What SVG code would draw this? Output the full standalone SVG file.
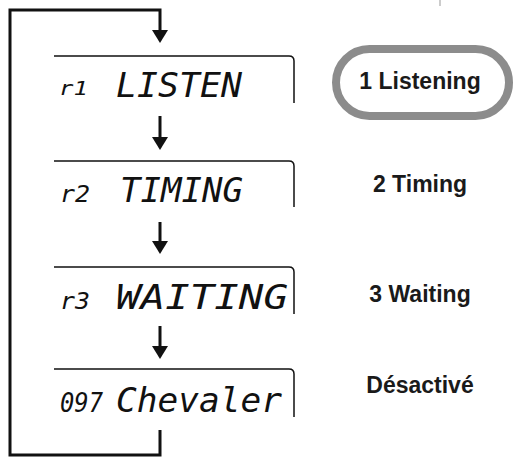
<svg xmlns="http://www.w3.org/2000/svg" width="517" height="459" viewBox="0 0 517 459">
<style>
.box{fill:none;stroke:#111;stroke-width:1.5}
.lcd{font-family:"DejaVu Sans Mono",monospace;font-style:italic;fill:#111}
.pre{font-family:"DejaVu Sans Mono",monospace;font-style:italic;fill:#111}
.lbl{font-family:"Liberation Sans",Arial,sans-serif;font-weight:bold;font-size:23px;fill:#1a1a1a;text-anchor:middle}
.conn{fill:none;stroke:#111;stroke-width:3}
.head{fill:#111}
</style>
<rect width="517" height="459" fill="#fff"/>
<line x1="440" y1="0" x2="440" y2="6" stroke="#999" stroke-width="1"/>
<g id="connectors">
<path class="conn" d="M160,430 V455 H10 V10 H160 V31"/>
<path class="head" d="M152,30 L168,30 L160,43 Z"/>
<line class="conn" x1="160" y1="116" x2="160" y2="138"/>
<path class="head" d="M152,137 L168,137 L160,150 Z"/>
<line class="conn" x1="160" y1="222" x2="160" y2="242"/>
<path class="head" d="M152,241 L168,241 L160,254 Z"/>
<line class="conn" x1="160" y1="326" x2="160" y2="347"/>
<path class="head" d="M152,346 L168,346 L160,359 Z"/>
</g>
<g id="display1">
<path class="box" d="M54,56 H289 Q294,56 294,61 V103"/>
<text class="pre" x="59" y="95" font-size="19" textLength="29" lengthAdjust="spacingAndGlyphs">r1</text>
<text class="lcd" x="116" y="97" font-size="34" textLength="126" lengthAdjust="spacingAndGlyphs">LISTEN</text>
</g>
<g id="display2">
<path class="box" d="M54,161 H289 Q294,161 294,166 V207"/>
<text class="pre" x="60" y="202" font-size="23" textLength="30" lengthAdjust="spacingAndGlyphs">r2</text>
<text class="lcd" x="120" y="202" font-size="34" textLength="123" lengthAdjust="spacingAndGlyphs">TIMING</text>
</g>
<g id="display3">
<path class="box" d="M54,267 H289 Q294,267 294,272 V314"/>
<text class="pre" x="60" y="309" font-size="23" textLength="30" lengthAdjust="spacingAndGlyphs">r3</text>
<text class="lcd" x="116" y="309" font-size="34" textLength="172" lengthAdjust="spacingAndGlyphs">WAITING</text>
</g>
<g id="display4">
<path class="box" d="M54,369 H289 Q294,369 294,374 V417"/>
<text class="pre" x="60" y="412" font-size="26" textLength="43" lengthAdjust="spacingAndGlyphs">097</text>
<text class="lcd" x="116" y="412" font-size="34" textLength="166" lengthAdjust="spacingAndGlyphs">Chevaler</text>
</g>
<g id="label1">
<rect x="336" y="49" width="173" height="67" rx="33.5" fill="#fff" stroke="#8c8c8c" stroke-width="8"/>
<text class="lbl" x="420" y="89">1 Listening</text>
</g>
<g id="label2"><text class="lbl" x="420" y="192">2 Timing</text></g>
<g id="label3"><text class="lbl" x="420" y="302">3 Waiting</text></g>
<g id="label4"><text class="lbl" x="420" y="393">Désactivé</text></g>
</svg>
